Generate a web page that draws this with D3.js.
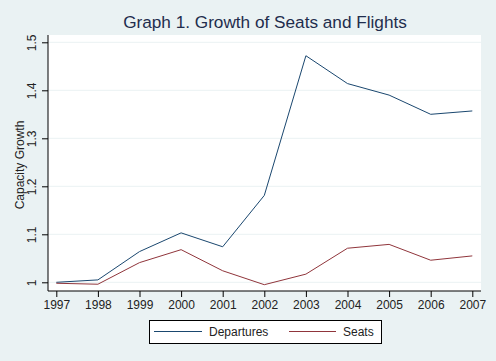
<!DOCTYPE html>
<html lang="en">
<head>
  <meta charset="UTF-8">
  <title>Graph 1. Growth of Seats and Flights</title>
  <script src="https://d3js.org/d3.v7.min.js"></script>
  <style>
    body { margin: 0; background: #eaf2f3; }
    svg { display: block; font-family: "Liberation Sans", Arial, sans-serif; }
  </style>
</head>
<body>
  <svg id="chart" width="496" height="361"></svg>
  <script>
    // Data
    const years = [1997, 1998, 1999, 2000, 2001, 2002, 2003, 2004, 2005, 2006, 2007];
    const departures = [1.000, 1.005, 1.064, 1.103, 1.074, 1.181, 1.472, 1.414, 1.390, 1.350, 1.357];
    const seats = [0.998, 0.996, 1.041, 1.068, 1.024, 0.995, 1.017, 1.071, 1.079, 1.046, 1.055];
    const yTicks = [1, 1.1, 1.2, 1.3, 1.4, 1.5];

    const svg = d3.select("#chart");
    const plot = { left: 48, right: 481, top: 35, bottom: 291 };

    svg.append("rect").attr("width", 496).attr("height", 361).attr("fill", "#eaf2f3");
    svg.append("rect")
       .attr("x", plot.left).attr("y", plot.top)
       .attr("width", plot.right - plot.left).attr("height", plot.bottom - plot.top)
       .attr("fill", "#fff");

    const x = d3.scaleLinear().domain([1997, 2007]).range([56.3, 472.3]);
    const y = d3.scaleLinear().domain([1, 1.5]).range([282.3, 42.3]);

    // gridlines
    svg.append("g").selectAll("line").data(yTicks).enter().append("line")
       .attr("x1", plot.left).attr("x2", plot.right)
       .attr("y1", d => y(d)).attr("y2", d => y(d))
       .attr("stroke", "#eaf2f3").attr("stroke-width", 1);

    // y axis
    const yAxis = svg.append("g")
       .attr("transform", `translate(${plot.left},0)`)
       .call(d3.axisLeft(y).tickValues(yTicks).tickSize(6).tickSizeOuter(0).tickFormat(d3.format("")));
    yAxis.select(".domain").attr("d", `M0,${plot.top}V${plot.bottom}`).attr("stroke", "#000");
    yAxis.selectAll(".tick line").attr("stroke", "#000");
    yAxis.selectAll(".tick text")
       .attr("x", 0).attr("dy", 0)
       .attr("transform", "translate(-12,0) rotate(-90)")
       .attr("text-anchor", "middle")
       .attr("font-size", 12).attr("fill", "#222");

    // x axis
    const xAxis = svg.append("g")
       .attr("transform", `translate(0,${plot.bottom})`)
       .call(d3.axisBottom(x).tickValues(years).tickSize(6).tickSizeOuter(0).tickFormat(d3.format("d")));
    xAxis.select(".domain").attr("d", `M${plot.left},0H${plot.right}`).attr("stroke", "#000");
    xAxis.selectAll(".tick line").attr("stroke", "#000");
    xAxis.selectAll(".tick text").attr("y", 9).attr("font-size", 12).attr("fill", "#222");

    // lines
    const line = d3.line().x((d, i) => x(years[i])).y(d => y(d));
    svg.append("path").datum(departures).attr("d", line)
       .attr("fill", "none").attr("stroke", "#1a476f").attr("stroke-width", 1);
    svg.append("path").datum(seats).attr("d", line)
       .attr("fill", "none").attr("stroke", "#90353b").attr("stroke-width", 1);

    // title
    svg.append("text")
       .attr("x", 265).attr("y", 28)
       .attr("text-anchor", "middle")
       .attr("font-size", 17.2).attr("fill", "#1f2d4d")
       .text("Graph 1. Growth of Seats and Flights");

    // y axis title
    svg.append("text")
       .attr("transform", "translate(24,165) rotate(-90)")
       .attr("text-anchor", "middle")
       .attr("font-size", 12).attr("fill", "#222")
       .text("Capacity Growth");

    // legend
    const lg = svg.append("g");
    lg.append("rect")
      .attr("x", 149.5).attr("y", 320.5).attr("width", 232).attr("height", 23)
      .attr("fill", "#fff").attr("stroke", "#000");
    const items = [
      { name: "Departures", color: "#1a476f", x0: 154, x1: 202, tx: 209 },
      { name: "Seats", color: "#90353b", x0: 289, x1: 336, tx: 343 }
    ];
    items.forEach(it => {
      lg.append("line").attr("x1", it.x0).attr("x2", it.x1)
        .attr("y1", 331.5).attr("y2", 331.5)
        .attr("stroke", it.color).attr("stroke-width", 1);
      lg.append("text").attr("x", it.tx).attr("y", 336)
        .attr("font-size", 12).attr("fill", "#222").text(it.name);
    });
  </script>
</body>
</html>
